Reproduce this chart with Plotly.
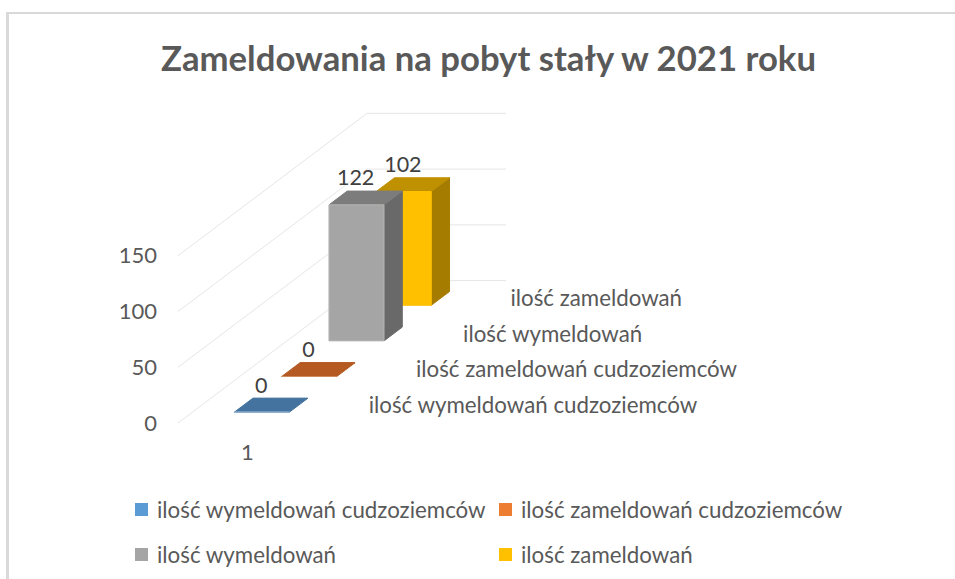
import plotly.graph_objects as go

TITLE = "Zameldowania na pobyt stały w 2021 roku"
series_names = ["ilość wymeldowań cudzoziemców", "ilość zameldowań cudzoziemców",
                "ilość wymeldowań", "ilość zameldowań"]
series_values = [0, 0, 122, 102]
category_labels = ["1"]
value_ticks = [0, 50, 100, 150]
legend_colors = ["#5B9BD5", "#ED7D31", "#A5A5A5", "#FFC000"]
front_colors = ["#41719C", "#B5591F", "#A5A5A5", "#FFC000"]
side_colors = ["#335A7D", "#8F4718", "#696969", "#A67C00"]
top_colors = ["#44739F", "#B55A22", "#7C7C7C", "#BF9000"]
edge_colors = ["#8FB1CF", "#D08C62", "#B4B4B4", "#FFC000"]

W, H = 955, 579
# Oblique 3D -> 2D projection, in axis units (x: category widths, y: value units)
PX_X, PX_Z = 139.0, 1.115          # pixels per category / per value unit
ORG_X, ORG_Y = 178.0, 423.0        # pixel position of the front-left floor corner
DX, DZ = 47.25 / PX_X, 35.6 / PX_Z  # shift per depth slot
BAR_W, BAR_D = 0.396, 0.387
GRID = "#E6E6E6"
TEXT = "#595959"
FONT = "Lato"


def proj(x, d, z):
    return x + d * DX, z + d * DZ


def poly(points, fill, line=None):
    xs, ys = zip(*[proj(*p) for p in points + points[:1]])
    return go.Scatter(x=xs, y=ys, mode="lines", fill="toself", fillcolor=fill,
                      line=dict(color=line or fill, width=1), hoverinfo="skip", showlegend=False)


def label(x, y, text, size, color=TEXT, pos="middle center"):
    return go.Scatter(x=[x], y=[y], mode="text", text=[text], textposition=pos,
                      textfont=dict(family=FONT, size=size, color=color),
                      hoverinfo="skip", showlegend=False)


fig = go.Figure()

# walls' gridlines
n = len(series_names)
for v in value_ticks:
    xs, ys = zip(proj(0, 0, v), proj(0, n, v), proj(1, n, v))
    fig.add_trace(go.Scatter(x=xs, y=ys, mode="lines", line=dict(color=GRID, width=1),
                             hoverinfo="skip", showlegend=False))

# bars, back to front
for i in reversed(range(n)):
    v = series_values[i]
    x0 = (1 - BAR_W) / 2
    x1 = x0 + BAR_W
    d0 = i + (1 - BAR_D) / 2
    d1 = d0 + BAR_D
    if v > 0:
        fig.add_trace(poly([(x1, d0, 0), (x1, d1, 0), (x1, d1, v), (x1, d0, v)], side_colors[i]))
    else:
        fig.add_trace(poly([(x0, d1, 0), (x1, d1, 0)], edge_colors[i]))
    fig.add_trace(poly([(x0, d0, v), (x1, d0, v), (x1, d1, v), (x0, d1, v)], top_colors[i]))
    fig.add_trace(poly([(x0, d0, 0), (x1, d0, 0), (x1, d0, v), (x0, d0, v)], front_colors[i], edge_colors[i]))

# data labels
for i in range(n):
    v = series_values[i]
    lx, lz = proj(0.5, i + 0.5, v)
    fig.add_trace(label(lx - 10 / PX_X, lz + 18 / PX_Z, str(v), 21.5, "#404040"))

# category label
fig.add_trace(label(0.5, -28, category_labels[0], 22))

# depth-axis labels
for i, name in enumerate(series_names):
    lx, lz = proj(1, i + 0.5, 0)
    fig.add_trace(label(lx + 28 / PX_X, lz - 2 / PX_Z, name, 22.3, TEXT, "middle right"))

# legend
leg_cols = [135 / W, 499 / W]
leg_rows = [1 - 509.5 / H, 1 - 554.5 / H]
shapes = [
    dict(type="line", xref="paper", yref="paper", x0=7.5 / W, x1=7.5 / W, y0=0, y1=1 - 12 / H,
         line=dict(color="#D9D9D9", width=3)),
    dict(type="line", xref="paper", yref="paper", x0=6 / W, x1=1, y0=1 - 13 / H, y1=1 - 13 / H,
         line=dict(color="#D9D9D9", width=2)),
]
annotations = []
for i, name in enumerate(series_names):
    cx, cy = leg_cols[i % 2], leg_rows[i // 2]
    shapes.append(dict(type="rect", xref="paper", yref="paper", x0=cx, x1=cx + 13 / W,
                       y0=cy - 6.5 / H, y1=cy + 6.5 / H, fillcolor=legend_colors[i], line_width=0))
    annotations.append(dict(xref="paper", yref="paper", x=cx + 20 / W, y=cy, xanchor="left",
                            yanchor="middle", showarrow=False, text=name,
                            font=dict(family=FONT, size=22.3, color=TEXT)))
annotations.append(dict(xref="paper", yref="paper", x=488 / W, y=1 - 58 / H, xanchor="center",
                        yanchor="middle", showarrow=False, text="<b>" + TITLE + "</b>",
                        font=dict(family=FONT, size=34.7, color="#595959")))

fig.update_layout(
    width=W, height=H, margin=dict(l=0, r=0, t=0, b=0),
    paper_bgcolor="white", plot_bgcolor="white", showlegend=False,
    xaxis=dict(range=[-ORG_X / PX_X, (W - ORG_X) / PX_X], visible=False, fixedrange=True),
    yaxis=dict(range=[-(H - ORG_Y) / PX_Z, ORG_Y / PX_Z], anchor="free", position=157 / W,
               tickvals=value_ticks, ticks="", showline=False, showgrid=False, zeroline=False,
               tickfont=dict(family=FONT, size=22, color=TEXT), fixedrange=True),
    shapes=shapes, annotations=annotations,
)

fig.write_html("out.html", config={"displayModeBar": False},
               post_script="document.body.style.margin='0';document.body.style.overflow='hidden';")
